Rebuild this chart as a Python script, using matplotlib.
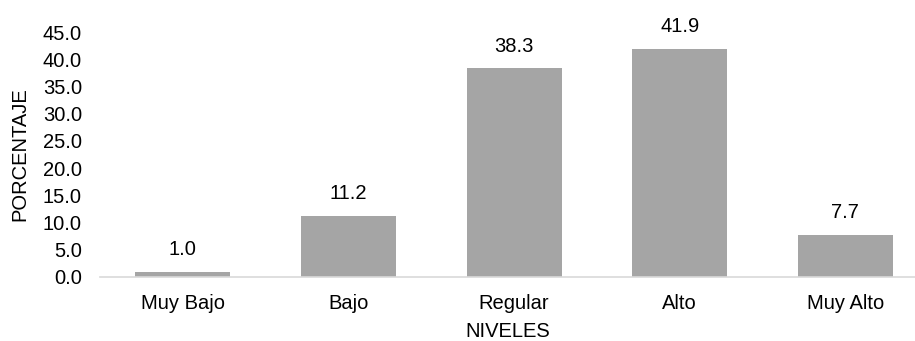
import matplotlib
matplotlib.use('Agg')
import matplotlib.pyplot as plt

# Niveles y porcentajes
niveles = ['Muy Bajo', 'Bajo', 'Regular', 'Alto', 'Muy Alto']
porcentajes = [1.0, 11.2, 38.3, 41.9, 7.7]
y_ticks = [0, 5, 10, 15, 20, 25, 30, 35, 40, 45]

BAR_GRAY = '#A5A5A5'
AXIS_GRAY = '#D9D9D9'
TEXT = '#000000'
FS = 14.5

plt.rcParams['font.family'] = ['Liberation Sans', 'DejaVu Sans']

fig = plt.figure(figsize=(9.15, 3.41), dpi=100)
ax = fig.add_axes([100 / 915, 1 - 277 / 341, 815 / 915, 245 / 341])

x = range(len(niveles))
ax.bar(x, porcentajes, width=0.575, color=BAR_GRAY, zorder=2)

for xi, v in zip(x, porcentajes):
    ax.annotate(f'{v:.1f}', (xi, v), xytext=(0, 16), textcoords='offset points',
                ha='center', va='center', fontsize=FS, color=TEXT, clip_on=False)

ax.set_xlim(-0.5, 4.42)
ax.set_ylim(0, 45)
ax.set_yticks(y_ticks)
ax.set_yticklabels([f'{t:.1f}' for t in y_ticks])
ax.set_xticks(list(x))
ax.set_xticklabels(niveles)
ax.tick_params(axis='both', length=0, labelsize=FS, colors=TEXT)
ax.tick_params(axis='y', pad=13)
ax.tick_params(axis='x', pad=12)

for side in ['top', 'right', 'left']:
    ax.spines[side].set_visible(False)
ax.spines['bottom'].set_color(AXIS_GRAY)
ax.spines['bottom'].set_linewidth(1.2)

ax.set_xlabel('NIVELES', fontsize=FS, color=TEXT, labelpad=7)
ax.set_ylabel('PORCENTAJE', fontsize=FS, color=TEXT, va='center')
ax.yaxis.set_label_coords(-0.098, 0.5)

fig.savefig('out.png', dpi=100)
